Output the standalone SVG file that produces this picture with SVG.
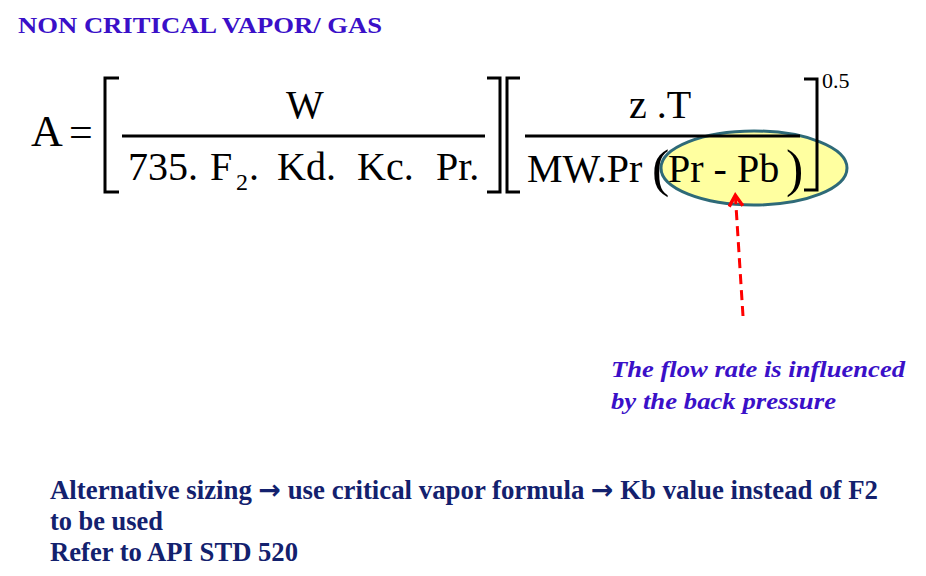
<svg xmlns="http://www.w3.org/2000/svg" width="926" height="576" viewBox="0 0 926 576">
<defs>
<style>
.eq{font-family:'Liberation Serif','Times New Roman',serif;fill:#000}
.br{fill:none;stroke:#000;stroke-width:3}
.title{font-family:'Liberation Serif','Times New Roman',serif;font-weight:bold;fill:#3A10C8}
.note{font-family:'Liberation Serif','Times New Roman',serif;font-weight:bold;font-style:italic;fill:#3A10C8}
.foot{font-family:'Liberation Serif','Times New Roman',serif;font-weight:bold;fill:#13216E}
.arr{font-family:'DejaVu Sans',sans-serif;font-weight:bold}
</style>
<marker id="chev" viewBox="0 0 12 12" refX="7" refY="6" markerWidth="5.5" markerHeight="5.5" orient="auto">
<path d="M1,1 L9,6 L1,11" fill="none" stroke="#FF0000" stroke-width="2.5"/>
</marker>
</defs>
<rect width="926" height="576" fill="#fff"/>
<g id="title"><text class="title" x="18" y="33" font-size="24" textLength="364" lengthAdjust="spacingAndGlyphs">NON CRITICAL VAPOR/ GAS</text></g>
<g id="highlight"><ellipse cx="754" cy="168" rx="93" ry="37" fill="#FFFFA0" stroke="#2E6A78" stroke-width="3"/></g>
<g id="formula">
<text class="eq" x="31" y="146" font-size="44">A</text>
<text class="eq" x="69" y="146" font-size="42">=</text>
<path class="br" d="M119,78 H105 V192 H119"/>
<line x1="122" y1="136" x2="485" y2="136" stroke="#000" stroke-width="3"/>
<text class="eq" x="305" y="118" font-size="40" text-anchor="middle">W</text>
<text class="eq" x="128" y="180" font-size="40">735.</text>
<text class="eq" x="210" y="180" font-size="40">F</text>
<text class="eq" x="236" y="190" font-size="24">2</text>
<text class="eq" x="249" y="180" font-size="40">.</text>
<text class="eq" x="277" y="180" font-size="40">Kd.</text>
<text class="eq" x="357" y="180" font-size="40">Kc.</text>
<text class="eq" x="436" y="180" font-size="40">Pr.</text>
<path class="br" d="M487,78 H500 V192 H487"/>
<path class="br" d="M520,78 H507 V192 H520"/>
<line x1="525" y1="136" x2="800" y2="136" stroke="#000" stroke-width="3"/>
<text class="eq" x="660" y="118" font-size="40" text-anchor="middle">z .T</text>
<text class="eq" x="527" y="182" font-size="40">MW.Pr</text>
<text class="eq" x="652" y="186" font-size="52">(</text>
<text class="eq" x="668" y="182" font-size="40">Pr - Pb</text>
<text class="eq" x="786" y="186" font-size="52">)</text>
<path class="br" d="M804,79 H817 V190 H804"/>
<text class="eq" x="822" y="88" font-size="22">0.5</text>
</g>
<g id="connectors">
<line x1="743" y1="316" x2="735.5" y2="198" stroke="#FF0000" stroke-width="3" stroke-dasharray="10,6" marker-end="url(#chev)"/>
</g>
<g id="note">
<text class="note" x="611" y="377" font-size="24" textLength="294" lengthAdjust="spacingAndGlyphs">The flow rate is influenced</text>
<text class="note" x="611" y="409" font-size="24" textLength="225" lengthAdjust="spacingAndGlyphs">by the back pressure</text>
</g>
<g id="footer">
<text class="foot" x="50" y="499" font-size="27" textLength="828" lengthAdjust="spacingAndGlyphs">Alternative sizing <tspan class="arr">→</tspan> use critical vapor formula <tspan class="arr">→</tspan> Kb value instead of F2</text>
<text class="foot" x="50" y="530" font-size="27" textLength="113" lengthAdjust="spacingAndGlyphs">to be used</text>
<text class="foot" x="50" y="561" font-size="27" textLength="248" lengthAdjust="spacingAndGlyphs">Refer to API STD 520</text>
</g>
</svg>
